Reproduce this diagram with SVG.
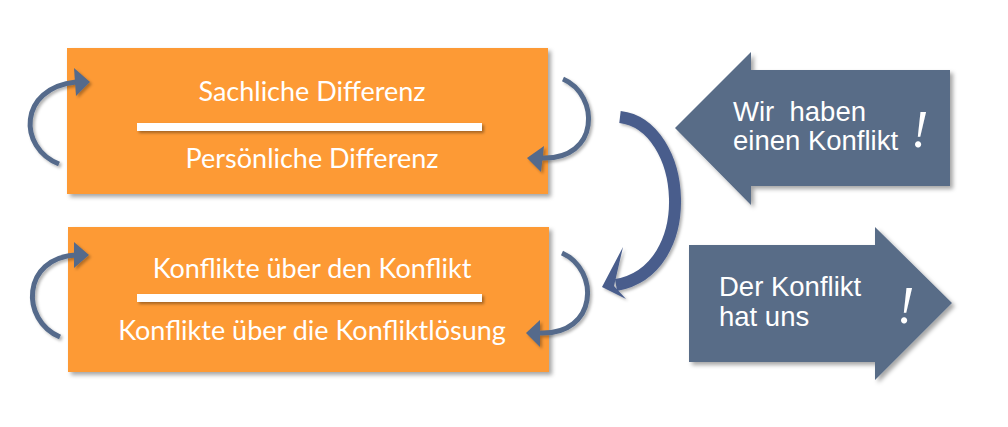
<svg xmlns="http://www.w3.org/2000/svg" width="1008" height="427" viewBox="0 0 1008 427">
<style>
.box{fill:#fd9a35;filter:url(#sh);}
.bar{fill:#ffffff;filter:url(#sh2);}
.lbl{font-family:Lato,"Open Sans",sans-serif;font-size:27px;fill:#ffffff;text-anchor:middle;}
.loop{fill:none;stroke:#546a8b;stroke-width:5;}
.loophead{fill:#546a8b;}
.big{fill:#586c87;filter:url(#sh);}
.atxt{font-family:"Liberation Sans",Arial,sans-serif;font-size:27.5px;fill:#ffffff;white-space:pre;}
.excl{font-family:"Liberation Serif",serif;font-style:italic;font-size:52px;fill:#ffffff;}
</style>
<defs>
<filter id="sh" x="-10%" y="-10%" width="130%" height="130%">
<feDropShadow dx="3" dy="3" stdDeviation="2" flood-color="#000" flood-opacity="0.35"/>
</filter>
<filter id="sh2" x="-10%" y="-100%" width="120%" height="400%">
<feDropShadow dx="2" dy="2" stdDeviation="1.5" flood-color="#000" flood-opacity="0.35"/>
</filter>
<filter id="sh3" x="-20%" y="-20%" width="150%" height="150%">
<feDropShadow dx="2" dy="2" stdDeviation="1.5" flood-color="#000" flood-opacity="0.3"/>
</filter>
</defs>

<g id="box-top">
<rect class="box" x="67" y="48" width="481" height="146"/>
<text class="lbl" x="312" y="101">Sachliche Differenz</text>
<rect class="bar" x="137" y="123" width="345" height="8"/>
<text class="lbl" x="312" y="168">Persönliche Differenz</text>
</g>

<g id="box-bottom">
<rect class="box" x="68" y="227" width="481" height="145"/>
<text class="lbl" x="312" y="278">Konflikte über den Konflikt</text>
<rect class="bar" x="137" y="294" width="345" height="8"/>
<text class="lbl" x="312" y="340">Konflikte über die Konfliktlösung</text>
</g>

<g id="arrow-left">
<polygon class="big" points="675,128 751,52 751,70 950,70 950,186 751,186 751,205"/>
<text class="atxt" x="733" y="121" xml:space="preserve">Wir  haben</text>
<text class="atxt" x="733" y="150">einen Konflikt</text>
<text class="excl" x="911" y="147">!</text>
</g>

<g id="arrow-right">
<polygon class="big" points="689,245 875,245 875,227 952,303 875,380 875,362 689,362"/>
<text class="atxt" x="719" y="296">Der Konflikt</text>
<text class="atxt" x="719" y="326">hat uns</text>
<text class="excl" x="897" y="323">!</text>
</g>

<g id="connectors" filter="url(#sh3)">
<path class="loop" d="M 59 164 C 18 148, 18 88, 76 82"/>
<polygon class="loophead" points="74,68 90,82 76,96"/>
<path class="loop" d="M 563 79 C 600 95, 600 160, 542 158"/>
<polygon class="loophead" points="544,146 527,158 541,172"/>
<path class="loop" d="M 60 337 C 20 320, 22 258, 76 255"/>
<polygon class="loophead" points="74,242 89,255 74,268"/>
<path class="loop" d="M 562 253 C 600 270, 598 335, 540 333"/>
<polygon class="loophead" points="540,320 526,333 540,347"/>
<path d="M 620 117 C 688 125, 700 270, 616 285" fill="none" stroke="#495d8c" stroke-width="12"/>
<polygon points="623,247 602,287 626,299 614,286" fill="#495d8c"/>
</g>
</svg>
